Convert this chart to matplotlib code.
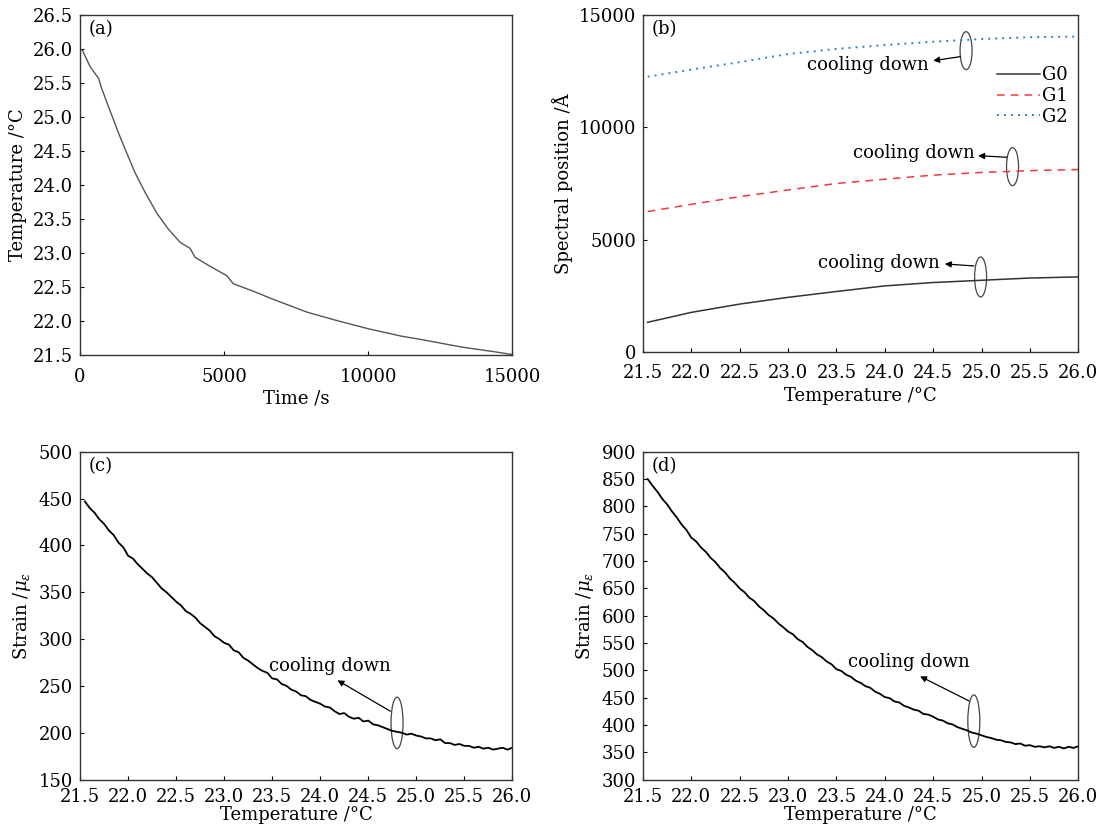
import numpy as np
import matplotlib
matplotlib.use("Agg")
import matplotlib.pyplot as plt
from matplotlib.patches import Ellipse

plt.rcParams["font.family"] = ["DejaVu Serif"]
plt.rcParams["mathtext.fontset"] = "dejavuserif"
plt.rcParams["font.size"] = 13

# (a) temperature log during cooling
time_s = [0, 80, 350, 640, 750, 980, 1330, 1620, 1910, 2260, 2660, 3070,
          3470, 3820, 3990, 4460, 5090, 5320, 5960, 6650, 7900, 9000,
          10000, 11160, 11860, 13250, 14410, 15000]
temp_c = [26.0, 25.98, 25.74, 25.57, 25.42, 25.16, 24.77, 24.47, 24.18,
          23.89, 23.59, 23.35, 23.16, 23.07, 22.94, 22.82, 22.67, 22.55,
          22.45, 22.33, 22.13, 22.0, 21.89, 21.78, 21.73, 21.62, 21.55, 21.51]

# (b) spectral positions of the three gratings
spec_temp = [21.55, 22.0, 22.5, 23.0, 23.5, 24.0, 24.5, 25.0, 25.5, 26.0]
g0 = [1320, 1760, 2130, 2430, 2690, 2940, 3090, 3190, 3290, 3340]
g1 = [6250, 6570, 6910, 7210, 7500, 7690, 7870, 7990, 8070, 8120]
g2 = [12250, 12570, 12900, 13260, 13490, 13660, 13810, 13930, 14010, 14040]

# (c), (d) strain readings, sampled every 0.05 degC from 21.55 to 26.00
strain_start, strain_step = 21.55, 0.05
strain_c = [447, 440, 435, 428, 423, 416, 411, 403, 398, 389,
            386, 380, 375, 370, 366, 360, 354, 350, 345, 340,
            336, 330, 327, 323, 317, 313, 309, 303, 300, 296,
            294, 288, 286, 280, 277, 273, 269, 266, 264, 258,
            257, 252, 250, 246, 244, 240, 239, 235, 233, 231,
            228, 227, 223, 220, 221, 217, 215, 216, 212, 213,
            209, 208, 206, 204, 202, 201, 200, 198, 199, 197,
            196, 194, 194, 192, 193, 189, 189, 187, 188, 186,
            186, 184, 185, 183, 184, 182, 183, 184, 182, 184]
strain_d = [850, 838, 827, 814, 804, 791, 780, 767, 757, 743,
            736, 725, 717, 706, 698, 687, 679, 668, 660, 650,
            643, 633, 627, 617, 610, 601, 595, 586, 579, 571,
            566, 557, 552, 543, 537, 529, 524, 516, 511, 502,
            499, 492, 488, 481, 477, 471, 468, 461, 457, 451,
            449, 443, 441, 435, 432, 428, 426, 420, 419, 415,
            410, 408, 403, 401, 396, 393, 390, 386, 384, 381,
            378, 376, 373, 372, 369, 368, 365, 366, 362, 363,
            360, 361, 359, 361, 358, 360, 357, 360, 358, 361]
strain_temp = np.round(strain_start + strain_step * np.arange(len(strain_c)), 2)

temp_ticks = np.arange(21.5, 26.01, 0.5)


def style(ax, xpad=9):
    for s in ax.spines.values():
        s.set_linewidth(1.0)
        s.set_color("#333333")
    ax.tick_params(direction="in", length=3, width=0.8, labelsize=13)
    ax.tick_params(axis="x", pad=xpad)
    ax.tick_params(axis="y", pad=5)


def mark(ax, center, w, h, tail, head, text_xy, ha):
    ax.add_patch(Ellipse(center, w, h, fill=False, edgecolor="#444444", lw=0.9))
    ax.annotate("", xy=head, xytext=tail,
                arrowprops=dict(arrowstyle="-|>", color="black", lw=0.9,
                                mutation_scale=9, shrinkA=0, shrinkB=0))
    ax.text(text_xy[0], text_xy[1], "cooling down", ha=ha, va="center", fontsize=13)


fig = plt.figure(figsize=(10.97, 8.32), dpi=100)
ax_a = fig.add_axes([0.073, 0.573, 0.394, 0.409])
ax_b = fig.add_axes([0.586, 0.577, 0.397, 0.405])
ax_c = fig.add_axes([0.073, 0.063, 0.394, 0.394])
ax_d = fig.add_axes([0.586, 0.063, 0.397, 0.394])

# (a)
ax_a.plot(time_s, temp_c, color="#555555", lw=1.0)
ax_a.set_xlim(0, 15000)
ax_a.set_ylim(21.5, 26.5)
ax_a.set_xticks([0, 5000, 10000, 15000])
ax_a.set_yticks(np.arange(21.5, 26.51, 0.5))
ax_a.yaxis.set_major_formatter(plt.FormatStrFormatter("%.1f"))
ax_a.set_xlabel("Time /s", labelpad=3)
ax_a.set_ylabel("Temperature /°C", labelpad=4)
ax_a.text(0.02, 0.985, "(a)", transform=ax_a.transAxes, va="top", ha="left")
style(ax_a)

# (b)
ax_b.plot(spec_temp, g0, color="#333333", lw=1.1, label="G0")
ax_b.plot(spec_temp, g1, color="#ec3a42", lw=1.1, ls=(0, (5, 4)), label="G1")
ax_b.plot(spec_temp, g2, color="#2a7fd4", lw=1.4, ls=(0, (1, 2.6)), label="G2")
ax_b.set_xlim(21.5, 26.0)
ax_b.set_ylim(0, 15000)
ax_b.set_xticks(temp_ticks)
ax_b.set_yticks([0, 5000, 10000, 15000])
ax_b.xaxis.set_major_formatter(plt.FormatStrFormatter("%.1f"))
ax_b.set_xlabel("Temperature /°C", labelpad=3)
ax_b.set_ylabel("Spectral position /Å", labelpad=4)
ax_b.text(0.02, 0.985, "(b)", transform=ax_b.transAxes, va="top", ha="left")
ax_b.legend(loc="upper right", bbox_to_anchor=(1.0, 0.88), frameon=False,
            handlelength=2.4, handletextpad=0.1, labelspacing=0.15,
            borderaxespad=0.2, fontsize=13)
mark(ax_b, (24.84, 13411), 0.124, 1690, (24.78, 13144), (24.50, 12966), (24.45, 12774), "right")
mark(ax_b, (25.32, 8248), 0.124, 1690, (25.26, 8666), (24.965, 8737), (24.93, 8858), "right")
mark(ax_b, (24.99, 3338), 0.124, 1780, (24.92, 3828), (24.62, 3917), (24.57, 3961), "right")
style(ax_b)

# (c)
ax_c.plot(strain_temp, strain_c, color="black", lw=1.3)
ax_c.set_xlim(21.5, 26.0)
ax_c.set_ylim(150, 500)
ax_c.set_xticks(temp_ticks)
ax_c.set_yticks(np.arange(150, 501, 50))
ax_c.xaxis.set_major_formatter(plt.FormatStrFormatter("%.1f"))
ax_c.set_xlabel("Temperature /°C", labelpad=0)
ax_c.set_ylabel(r"Strain /$\mu_{\varepsilon}$", labelpad=4)
ax_c.text(0.02, 0.985, "(c)", transform=ax_c.transAxes, va="top", ha="left")
mark(ax_c, (24.80, 210.5), 0.125, 55, (24.73, 223), (24.18, 256), (24.10, 271), "center")
style(ax_c, xpad=6)

# (d)
ax_d.plot(strain_temp, strain_d, color="black", lw=1.3)
ax_d.set_xlim(21.5, 26.0)
ax_d.set_ylim(300, 900)
ax_d.set_xticks(temp_ticks)
ax_d.set_yticks(np.arange(300, 901, 50))
ax_d.xaxis.set_major_formatter(plt.FormatStrFormatter("%.1f"))
ax_d.set_xlabel("Temperature /°C", labelpad=0)
ax_d.set_ylabel(r"Strain /$\mu_{\varepsilon}$", labelpad=4)
ax_d.text(0.02, 0.985, "(d)", transform=ax_d.transAxes, va="top", ha="left")
mark(ax_d, (24.92, 407), 0.124, 96, (24.87, 444), (24.365, 489), (24.25, 516), "center")
style(ax_d, xpad=6)

fig.savefig("out.png", dpi=100, facecolor="white")
